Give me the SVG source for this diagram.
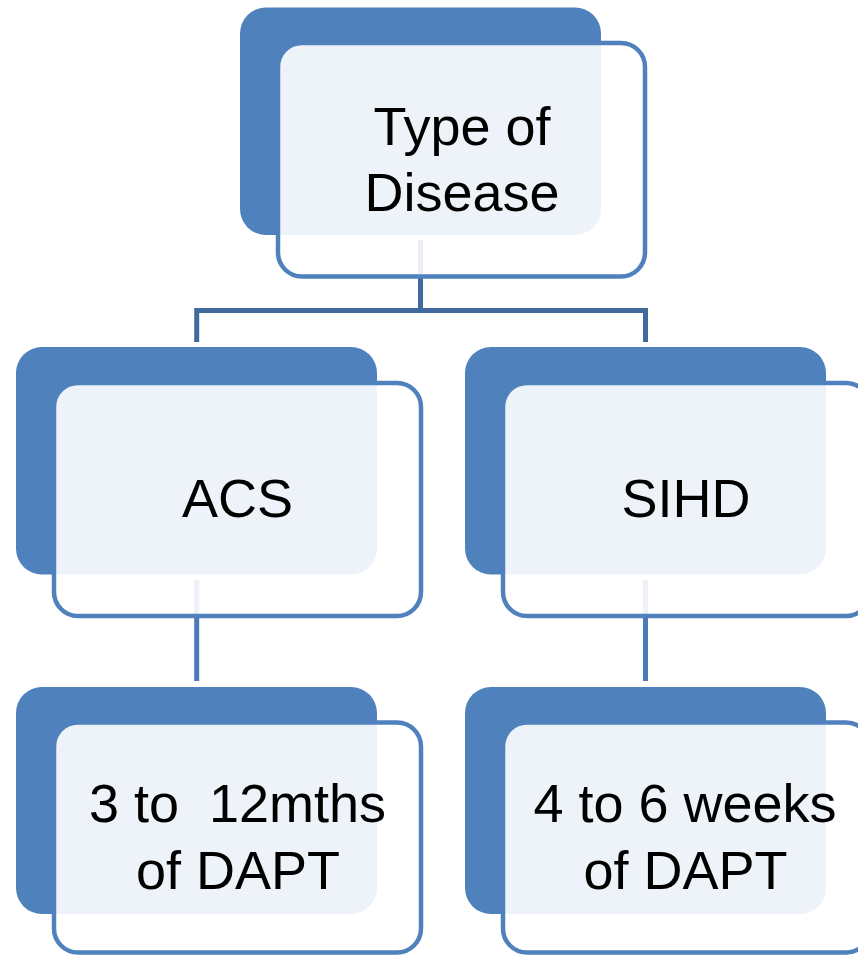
<svg xmlns="http://www.w3.org/2000/svg" width="858" height="955" viewBox="0 0 858 955">
<style>
.back{fill:#4F81BD;}
.front{fill:#FFFFFF;fill-opacity:0.9;stroke:#4F81BD;stroke-width:4.5;}
.c1{stroke:#3F6A9B;stroke-width:5;fill:none;}
.c2{stroke:#4A7AB8;stroke-width:5;fill:none;}
.t{font-family:"Liberation Sans",Arial,sans-serif;font-size:54px;fill:#000;text-anchor:middle;}
</style>
<rect width="858" height="955" fill="#FFFFFF"/>
<g id="connectors">
<path class="c1" d="M420.5,240 V310.5 M196.7,310.5 H645.5 M196.7,308 V342 M645.5,308 V342"/>
<path class="c2" d="M196.7,580 V681"/>
<path class="c2" d="M645.5,580 V681"/>
</g>
<g id="node-type">
<rect class="back" x="240" y="7.5" width="361" height="227.5" rx="26"/>
<rect class="front" x="278" y="43" width="367" height="233.5" rx="24"/>
<text class="t" x="462" y="145">Type of</text>
<text class="t" x="462" y="211">Disease</text>
</g>
<g id="node-acs">
<rect class="back" x="16" y="347" width="361" height="227.5" rx="26"/>
<rect class="front" x="54" y="383" width="367" height="233" rx="24"/>
<text class="t" x="237.5" y="517">ACS</text>
</g>
<g id="node-sihd">
<rect class="back" x="465" y="347" width="361" height="227.5" rx="26"/>
<rect class="front" x="503" y="383" width="367" height="233" rx="24"/>
<text class="t" x="686" y="517">SIHD</text>
</g>
<g id="node-acs-dapt">
<rect class="back" x="16" y="687" width="361" height="227" rx="26"/>
<rect class="front" x="54" y="722.5" width="367" height="230" rx="24"/>
<text class="t" x="237.5" y="822" xml:space="preserve">3 to  12mths</text>
<text class="t" x="238" y="889">of DAPT</text>
</g>
<g id="node-sihd-dapt">
<rect class="back" x="465" y="687" width="361" height="227" rx="26"/>
<rect class="front" x="503" y="722.5" width="367" height="230" rx="24"/>
<text class="t" x="685" y="822">4 to 6 weeks</text>
<text class="t" x="685.5" y="889">of DAPT</text>
</g>
</svg>
